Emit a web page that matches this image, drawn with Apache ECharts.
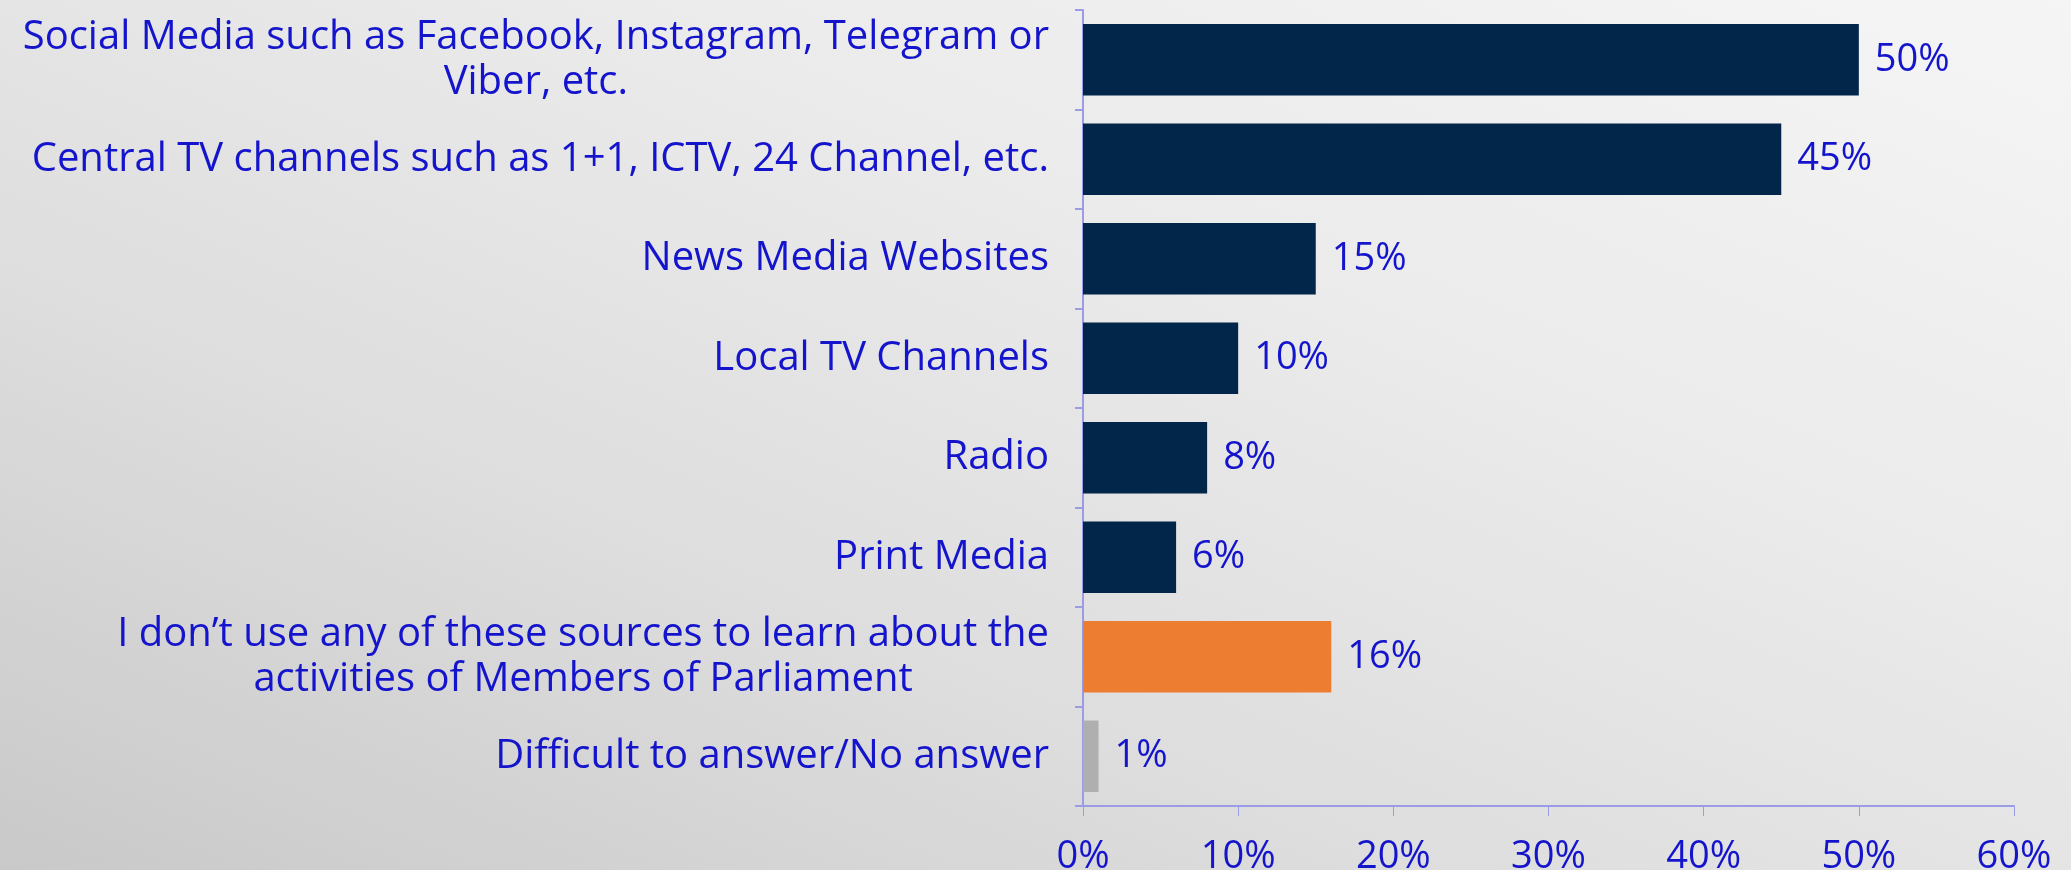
<!DOCTYPE html>
<html>
<head>
<meta charset="utf-8">
<script src="https://cdn.jsdelivr.net/npm/echarts@6/dist/echarts.min.js"></script>
<style>
  html, body { margin: 0; padding: 0; }
  body {
    width: 2071px; height: 870px; overflow: hidden;
    background: linear-gradient(to top right, #c9c9c9 0%, #dedede 35%, #ebebeb 65%, #f5f5f5 100%);
  }
  #chart { width: 2071px; height: 870px; }
</style>
</head>
<body>
<div id="chart"></div>
<script>
// Sources used to learn about the activities of Members of Parliament (share of respondents, %)
const categories = [
  'Social Media such as Facebook, Instagram, Telegram or\nViber, etc.',
  'Central TV channels such as 1+1, ICTV, 24 Channel, etc.',
  'News Media Websites',
  'Local TV Channels',
  'Radio',
  'Print Media',
  'I don\u2019t use any of these sources to learn about the\nactivities of Members of Parliament',
  'Difficult to answer/No answer'
];
const values = [50, 45, 15, 10, 8, 6, 16, 1];
const barColors = ['#01264a', '#01264a', '#01264a', '#01264a', '#01264a', '#01264a', '#ed7d31', '#afafaf'];
const xTicks = [0, 10, 20, 30, 40, 50, 60];

const textBlue = '#1414cc';
const axisColor = '#9c9ce6';
const fontFamily = '"Open Sans", "Noto Sans", sans-serif';
const valueFontSize = 38;
const categoryFontSize = 40;

const chart = echarts.init(document.getElementById('chart'), null, { renderer: 'canvas' });

chart.setOption({
  backgroundColor: 'transparent',
  animation: false,
  grid: {
    left: 1083, right: 57, top: 10, bottom: 64,
    containLabel: false,
    outerBoundsMode: 'none'
  },
  xAxis: {
    type: 'value',
    min: xTicks[0],
    max: xTicks[xTicks.length - 1],
    interval: xTicks[1] - xTicks[0],
    axisLine: { show: true, lineStyle: { color: axisColor, width: 2 } },
    axisTick: { show: true, length: 10, lineStyle: { color: axisColor, width: 1 } },
    splitLine: { show: false },
    axisLabel: {
      formatter: '{value}%',
      color: textBlue,
      fontFamily: fontFamily,
      fontSize: valueFontSize,
      margin: 32
    }
  },
  yAxis: {
    type: 'category',
    inverse: true,
    data: categories,
    axisLine: { show: true, lineStyle: { color: axisColor, width: 2 } },
    axisTick: { show: true, length: 8, lineStyle: { color: axisColor, width: 2 } },
    axisLabel: {
      align: 'right',
      margin: 34,
      // each line is centred within the right-aligned label block
      formatter: (name) => name.split('\n').map((line) => '{c|' + line + '}').join('\n'),
      rich: {
        c: {
          align: 'center',
          color: textBlue,
          fontFamily: fontFamily,
          fontSize: categoryFontSize,
          lineHeight: 45
        }
      }
    }
  },
  series: [{
    type: 'bar',
    data: values.map((v, i) => ({ value: v, itemStyle: { color: barColors[i] } })),
    barCategoryGap: '28%',
    label: {
      show: true,
      position: 'right',
      distance: 16,
      formatter: '{c}%',
      color: textBlue,
      fontFamily: fontFamily,
      fontSize: valueFontSize
    }
  }]
});
</script>
</body>
</html>
